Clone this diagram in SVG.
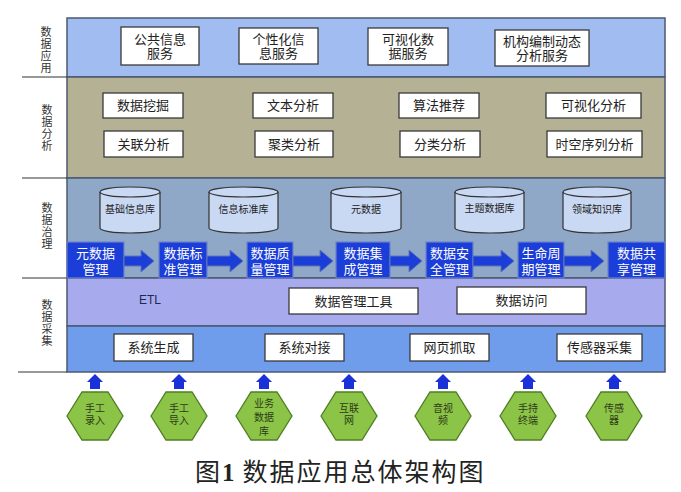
<svg xmlns="http://www.w3.org/2000/svg" width="681" height="492" viewBox="0 0 681 492">
<defs>
<style>
.lbl{font-family:"Noto Sans CJK SC",sans-serif;font-size:11px;fill:#333;text-anchor:middle;}
.box{fill:#ffffff;stroke:#3a3a3a;stroke-width:1.3;}
.t{font-family:"Noto Sans CJK SC",sans-serif;font-size:13px;fill:#222;text-anchor:middle;}
.cyl{fill:#c9d8f3;stroke:#333;stroke-width:1.2;}
.ct{font-family:"Noto Sans CJK SC",sans-serif;font-size:10px;fill:#222;text-anchor:middle;}
.pb{fill:#1c3ed8;stroke:#6d84c8;stroke-width:1.2;}
.pt{font-family:"Noto Sans CJK SC",sans-serif;font-size:13px;fill:#ffffff;text-anchor:middle;}
.arr{fill:#1c3ed8;stroke:#5f74b8;stroke-width:1;}
.up{fill:#1a30d8;}
.hex{fill:#8cc447;stroke:#4f7d22;stroke-width:1.3;}
.ht{font-family:"Noto Sans CJK SC",sans-serif;font-size:10px;fill:#2d3a18;text-anchor:middle;}
.sep{stroke:#333;stroke-width:1.2;}
</style>
</defs>
<rect width="681" height="492" fill="#ffffff"/>

<g id="layers">
<rect x="67" y="18" width="598" height="59" fill="#a1bcf1" stroke="#4b5a72" stroke-width="1.5"/>
<rect x="67" y="77" width="598" height="101" fill="#b4b195" stroke="#4b5a72" stroke-width="1.5"/>
<rect x="67" y="178" width="598" height="100" fill="#8fa8c8" stroke="#4b5a72" stroke-width="1.5"/>
<rect x="67" y="278" width="598" height="48" fill="#a7abee" stroke="#4b5a72" stroke-width="1.5"/>
<rect x="67" y="326" width="598" height="46" fill="#6f9dec" stroke="#4b5a72" stroke-width="1.5"/>
</g>

<g id="side-labels">
<line class="sep" x1="22" y1="77" x2="67" y2="77"/>
<line class="sep" x1="22" y1="178" x2="67" y2="178"/>
<line class="sep" x1="22" y1="278" x2="67" y2="278"/>
<line class="sep" x1="18" y1="372" x2="67" y2="372"/>
<text class="lbl"><tspan x="46" y="36">数</tspan><tspan x="46" y="48">据</tspan><tspan x="46" y="60">应</tspan><tspan x="46" y="72">用</tspan></text>
<text class="lbl"><tspan x="47" y="114">数</tspan><tspan x="47" y="126">据</tspan><tspan x="47" y="138">分</tspan><tspan x="47" y="150">析</tspan></text>
<text class="lbl"><tspan x="47" y="212">数</tspan><tspan x="47" y="224">据</tspan><tspan x="47" y="236">治</tspan><tspan x="47" y="248">理</tspan></text>
<text class="lbl"><tspan x="47" y="309">数</tspan><tspan x="47" y="321">据</tspan><tspan x="47" y="333">采</tspan><tspan x="47" y="345">集</tspan></text>
</g>

<g id="app-nodes">
<g id="n-public"><rect class="box" x="121" y="27" width="78" height="38"/><text class="t"><tspan x="160" y="44">公共信息</tspan><tspan x="160" y="58">服务</tspan></text></g>
<g id="n-personal"><rect class="box" x="239" y="28" width="79" height="36"/><text class="t"><tspan x="278.5" y="44">个性化信</tspan><tspan x="278.5" y="58">息服务</tspan></text></g>
<g id="n-visual"><rect class="box" x="368" y="28" width="80" height="37"/><text class="t"><tspan x="408" y="44">可视化数</tspan><tspan x="408" y="58">据服务</tspan></text></g>
<g id="n-org"><rect class="box" x="495" y="30" width="94" height="36"/><text class="t"><tspan x="542" y="46">机构编制动态</tspan><tspan x="542" y="60">分析服务</tspan></text></g>
</g>

<g id="analysis-nodes">
<g id="n-mining"><rect class="box" x="103" y="93" width="80" height="25"/><text class="t" x="143" y="110">数据挖掘</text></g>
<g id="n-text"><rect class="box" x="253" y="93" width="80" height="25"/><text class="t" x="293" y="110">文本分析</text></g>
<g id="n-algo"><rect class="box" x="399" y="93" width="80" height="25"/><text class="t" x="439" y="110">算法推荐</text></g>
<g id="n-vis"><rect class="box" x="546" y="93" width="95" height="25"/><text class="t" x="593.5" y="110">可视化分析</text></g>
<g id="n-assoc"><rect class="box" x="104" y="131" width="79" height="26"/><text class="t" x="143.5" y="149">关联分析</text></g>
<g id="n-cluster"><rect class="box" x="255" y="131" width="78" height="26"/><text class="t" x="294" y="149">聚类分析</text></g>
<g id="n-classify"><rect class="box" x="400" y="131" width="80" height="26"/><text class="t" x="440" y="149">分类分析</text></g>
<g id="n-spatio"><rect class="box" x="547" y="131" width="95" height="26"/><text class="t" x="594.5" y="149">时空序列分析</text></g>
</g>

<g id="db-nodes">
<g id="db-base"><path class="cyl" d="M100,192 A30,5 0 0 1 160,192 V228 A30,5 0 0 1 100,228 Z"/><path fill="none" stroke="#333" stroke-width="1.2" d="M100,192 A30,5 0 0 0 160,192"/><text class="ct" x="130" y="213">基础信息库</text></g>
<g id="db-std"><path class="cyl" d="M209,192 A34.5,5 0 0 1 278,192 V228 A34.5,5 0 0 1 209,228 Z"/><path fill="none" stroke="#333" stroke-width="1.2" d="M209,192 A34.5,5 0 0 0 278,192"/><text class="ct" x="243.5" y="213">信息标准库</text></g>
<g id="db-meta"><path class="cyl" d="M331,192 A35,5 0 0 1 401,192 V228 A35,5 0 0 1 331,228 Z"/><path fill="none" stroke="#333" stroke-width="1.2" d="M331,192 A35,5 0 0 0 401,192"/><text class="ct" x="366" y="213">元数据</text></g>
<g id="db-topic"><path class="cyl" d="M455,192 A34.5,5 0 0 1 524,192 V228 A34.5,5 0 0 1 455,228 Z"/><path fill="none" stroke="#333" stroke-width="1.2" d="M455,192 A34.5,5 0 0 0 524,192"/><text class="ct" x="489.5" y="212">主题数据库</text></g>
<g id="db-domain"><path class="cyl" d="M563,192 A34,5 0 0 1 631,192 V228 A34,5 0 0 1 563,228 Z"/><path fill="none" stroke="#333" stroke-width="1.2" d="M563,192 A34,5 0 0 0 631,192"/><text class="ct" x="597" y="213">领域知识库</text></g>
</g>

<g id="process-nodes">
<g id="p1"><rect class="pb" x="67" y="242" width="57" height="36"/><text class="pt"><tspan x="95.5" y="258">元数据</tspan><tspan x="95.5" y="274">管理</tspan></text></g>
<g id="p2"><rect class="pb" x="159" y="242" width="48" height="36"/><text class="pt"><tspan x="183" y="258">数据标</tspan><tspan x="183" y="274">准管理</tspan></text></g>
<g id="p3"><rect class="pb" x="247" y="242" width="46" height="36"/><text class="pt"><tspan x="270" y="258">数据质</tspan><tspan x="270" y="274">量管理</tspan></text></g>
<g id="p4"><rect class="pb" x="336" y="242" width="54" height="36"/><text class="pt"><tspan x="363" y="258">数据集</tspan><tspan x="363" y="274">成管理</tspan></text></g>
<g id="p5"><rect class="pb" x="426" y="242" width="47" height="36"/><text class="pt"><tspan x="449.5" y="258">数据安</tspan><tspan x="449.5" y="274">全管理</tspan></text></g>
<g id="p6"><rect class="pb" x="518" y="242" width="46" height="36"/><text class="pt"><tspan x="541" y="258">生命周</tspan><tspan x="541" y="274">期管理</tspan></text></g>
<g id="p7"><rect class="pb" x="608" y="242" width="57" height="36"/><text class="pt"><tspan x="636.5" y="258">数据共</tspan><tspan x="636.5" y="274">享管理</tspan></text></g>
</g>

<g id="etl-nodes">
<text x="150" y="304" font-family="Liberation Sans, Arial, sans-serif" font-size="12" fill="#1e2850" text-anchor="middle">ETL</text>
<g id="n-tool"><rect class="box" x="289" y="288" width="129" height="26"/><text class="t" x="353.5" y="306">数据管理工具</text></g>
<g id="n-access"><rect class="box" x="457" y="287" width="129" height="27"/><text class="t" x="521.5" y="305">数据访问</text></g>
</g>

<g id="collect-nodes">
<g id="n-gen"><rect class="box" x="114" y="334" width="79" height="27"/><text class="t" x="153.5" y="352">系统生成</text></g>
<g id="n-dock"><rect class="box" x="265" y="334" width="79" height="27"/><text class="t" x="304.5" y="352">系统对接</text></g>
<g id="n-crawl"><rect class="box" x="410" y="334" width="79" height="27"/><text class="t" x="449.5" y="352">网页抓取</text></g>
<g id="n-sensor"><rect class="box" x="557" y="334" width="85" height="27"/><text class="t" x="599.5" y="352">传感器采集</text></g>
</g>

<g id="source-nodes">
<g id="s1"><polygon class="hex" points="67,416 82,392 108,392 123,416 108,440 82,440"/><text class="ht"><tspan x="95" y="412">手工</tspan><tspan x="95" y="424">录入</tspan></text></g>
<g id="s2"><polygon class="hex" points="151,416 166,392 192,392 207,416 192,440 166,440"/><text class="ht"><tspan x="179" y="412">手工</tspan><tspan x="179" y="424">导入</tspan></text></g>
<g id="s3"><polygon class="hex" points="236,416 251,392 277,392 292,416 277,440 251,440"/><text class="ht"><tspan x="264" y="407">业务</tspan><tspan x="264" y="421">数据</tspan><tspan x="264" y="435">库</tspan></text></g>
<g id="s4"><polygon class="hex" points="321,416 336,392 362,392 377,416 362,440 336,440"/><text class="ht"><tspan x="349" y="412">互联</tspan><tspan x="349" y="424">网</tspan></text></g>
<g id="s5"><polygon class="hex" points="415,416 430,392 456,392 471,416 456,440 430,440"/><text class="ht"><tspan x="443" y="412">音视</tspan><tspan x="443" y="424">频</tspan></text></g>
<g id="s6"><polygon class="hex" points="500,416 515,392 541,392 556,416 541,440 515,440"/><text class="ht"><tspan x="528" y="412">手持</tspan><tspan x="528" y="424">终端</tspan></text></g>
<g id="s7"><polygon class="hex" points="586,416 601,392 627,392 642,416 627,440 601,440"/><text class="ht"><tspan x="614" y="412">传感</tspan><tspan x="614" y="424">器</tspan></text></g>
</g>

<g id="connectors">
<path class="arr" d="M124,256 H141 V250 L154,261 L141,272 V266 H124 Z"/>
<path class="arr" d="M207,256 H230 V250 L243,261 L230,272 V266 H207 Z"/>
<path class="arr" d="M293,256 H320 V250 L333,261 L320,272 V266 H293 Z"/>
<path class="arr" d="M390,256 H409 V250 L422,261 L409,272 V266 H390 Z"/>
<path class="arr" d="M473,256 H501 V250 L514,261 L501,272 V266 H473 Z"/>
<path class="arr" d="M564,256 H591 V250 L604,261 L591,272 V266 H564 Z"/>
<path class="up" d="M90,389 V382 H87 L95,374 L103,382 H100 V389 Z"/>
<path class="up" d="M174,389 V382 H171 L179,374 L187,382 H184 V389 Z"/>
<path class="up" d="M259,389 V382 H256 L264,374 L272,382 H269 V389 Z"/>
<path class="up" d="M344,389 V382 H341 L349,374 L357,382 H354 V389 Z"/>
<path class="up" d="M438,389 V382 H435 L443,374 L451,382 H448 V389 Z"/>
<path class="up" d="M523,389 V382 H520 L528,374 L536,382 H533 V389 Z"/>
<path class="up" d="M609,389 V382 H606 L614,374 L622,382 H619 V389 Z"/>
</g>

<text x="195" y="481" font-family="Noto Sans CJK SC, sans-serif" font-size="25" fill="#222" letter-spacing="2">图<tspan font-family="Liberation Serif, serif" font-weight="bold">1</tspan><tspan dx="6">数据应用总体架构图</tspan></text>
</svg>
